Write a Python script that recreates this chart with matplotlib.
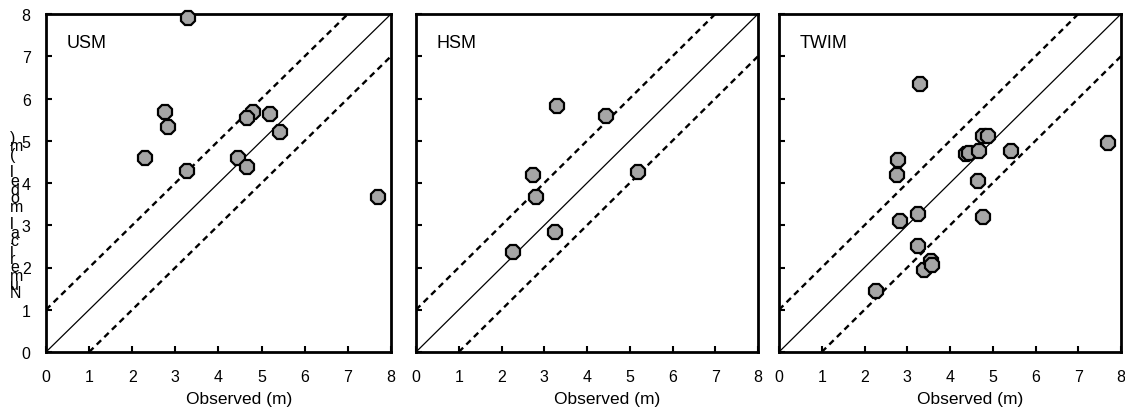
import matplotlib
matplotlib.use("Agg")
import matplotlib.pyplot as plt

plt.rcParams['font.family'] = ['Liberation Sans', 'DejaVu Sans']

panel_names = ["USM", "HSM", "TWIM"]

usm_obs = [3.30, 2.75, 2.84, 2.30, 3.26, 4.79, 4.67, 5.20, 5.43, 4.45, 4.67, 7.69]
usm_mod = [7.90, 5.67, 5.33, 4.58, 4.29, 5.67, 5.54, 5.63, 5.20, 4.60, 4.39, 3.66]

hsm_obs = [3.29, 4.44, 2.73, 2.80, 3.25, 2.28, 5.19]
hsm_mod = [5.83, 5.59, 4.20, 3.68, 2.83, 2.37, 4.27]

twim_obs = [3.30, 2.78, 2.75, 2.83, 3.26, 3.26, 3.40, 3.55, 3.57, 2.28,
            4.37, 4.44, 4.67, 4.78, 4.90, 4.66, 4.78, 5.43, 7.70]
twim_mod = [6.35, 4.55, 4.19, 3.11, 3.27, 2.50, 1.94, 2.16, 2.07, 1.45,
            4.69, 4.71, 4.76, 5.11, 5.12, 4.05, 3.19, 4.76, 4.95]

obs_sets = [usm_obs, hsm_obs, twim_obs]
mod_sets = [usm_mod, hsm_mod, twim_mod]

ticks = [0, 1, 2, 3, 4, 5, 6, 7, 8]
xlabel = "Observed (m)"
ylabel = "Numerical model (m)"

W, H = 1125, 414
fig = plt.figure(figsize=(W / 100, H / 100), dpi=100)

lefts = [46, 416, 779]
widths = [345, 342, 342]
top, bottom = 15, 353

for i, name in enumerate(panel_names):
    ax = fig.add_axes([lefts[i] / W, (H - bottom) / H, widths[i] / W, (bottom - top) / H])
    ax.set_xlim(0, 8)
    ax.set_ylim(0, 8)
    ax.plot([0, 8], [0, 8], color='black', lw=0.9)
    ax.plot([0, 7], [1, 8], color='black', lw=1.7, linestyle=(0, (2.6, 1.9)))
    ax.plot([1, 8], [0, 7], color='black', lw=1.7, linestyle=(0, (2.6, 1.9)))
    ax.plot(obs_sets[i], mod_sets[i], linestyle='none', marker='8', ms=10.5,
            mfc='#a6a6a6', mec='black', mew=1.6, clip_on=False, zorder=5)
    ax.set_xticks(ticks)
    ax.set_yticks(ticks)
    ax.tick_params(direction='in', length=4, width=1.5, labelsize=11.5)
    ax.tick_params(axis='x', pad=12.5)
    ax.tick_params(axis='y', pad=11)
    if i > 0:
        ax.set_yticklabels([])
    for s in ax.spines.values():
        s.set_linewidth(2.0)
    ax.set_xlabel(xlabel, fontsize=12.5)
    ax.xaxis.set_label_coords(0.56, -0.115)
    ax.text(0.06, 0.915, name, transform=ax.transAxes, fontsize=13,
            va='center', ha='left')

# stacked (garbled) y-axis label as in the original: upright glyphs stacked
# bottom-to-top, tightly packed
stacked = "\n".join(reversed(ylabel))
fig.text(10 / W, 1 - 216 / H, stacked, fontsize=11.5, ha='left', va='center',
         multialignment='left', linespacing=0.47)

fig.savefig("out.png", dpi=100)
